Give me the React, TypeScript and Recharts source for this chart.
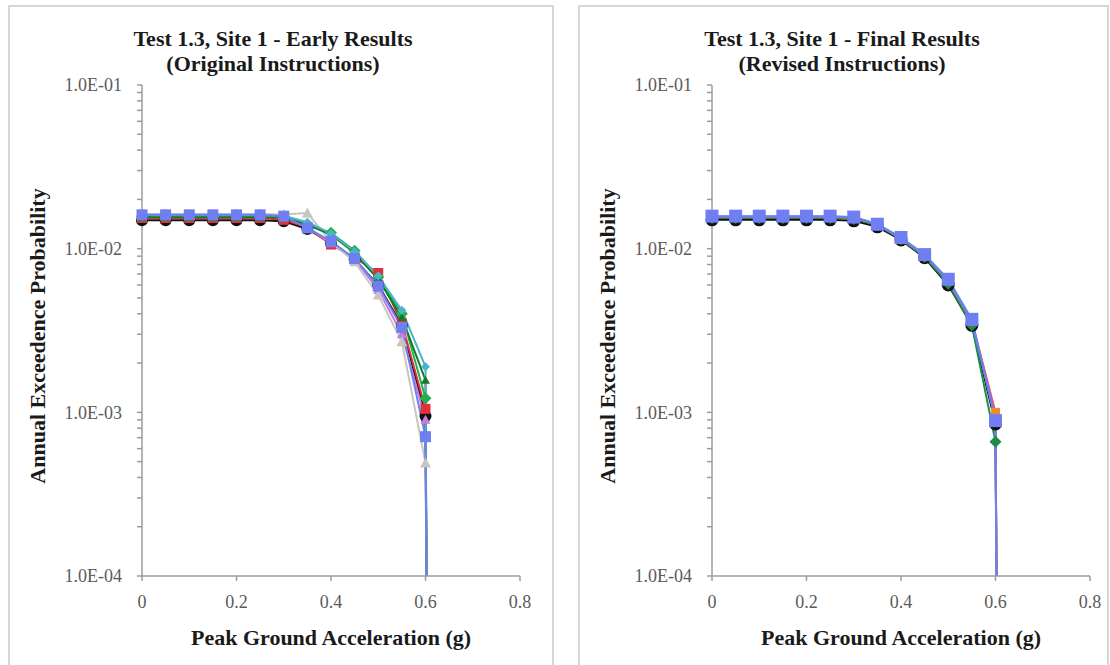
import { LineChart, Line, XAxis, YAxis } from "recharts";

// peak ground acceleration (g) - last point closes the curve down to the axis floor
const ACCEL = [0, 0.05, 0.1, 0.15, 0.2, 0.25, 0.3, 0.35, 0.4, 0.45, 0.5, 0.55, 0.6, 0.602];

// early results (original instructions)
const earlyBlack = [0.0149, 0.0149, 0.0149, 0.0149, 0.0149, 0.0149, 0.0147, 0.0132, 0.0108, 0.0086, 0.006, 0.0034, 0.00095, 0.0001];
const earlyRed = [0.0154, 0.0154, 0.0154, 0.0154, 0.0154, 0.0154, 0.015, 0.0135, 0.0106, 0.0088, 0.0071, 0.0035, 0.00105, 0.0001];
const earlyGreen = [0.0158, 0.0158, 0.0158, 0.0158, 0.0158, 0.0158, 0.0157, 0.014, 0.0125, 0.0097, 0.0067, 0.004, 0.00122, 0.0001];
const earlyDarkGreen = [0.0156, 0.0156, 0.0156, 0.0156, 0.0156, 0.0156, 0.0155, 0.014, 0.0122, 0.0094, 0.0065, 0.0038, 0.00157, 0.0001];
const earlyTeal = [0.016, 0.016, 0.016, 0.016, 0.016, 0.016, 0.0159, 0.0145, 0.0124, 0.0096, 0.0068, 0.0042, 0.0019, 0.0001];
const earlyGray = [0.0163, 0.0163, 0.0163, 0.0163, 0.0163, 0.0163, 0.0162, 0.0165, 0.011, 0.0083, 0.0052, 0.0027, 0.00049, 0.0001];
const earlyPink = [0.0158, 0.0158, 0.0158, 0.0158, 0.0158, 0.0158, 0.0156, 0.0135, 0.0108, 0.0086, 0.0056, 0.003, 0.0009, 0.0001];
const earlyBlue = [0.0161, 0.0161, 0.0161, 0.0161, 0.0161, 0.0161, 0.0158, 0.0134, 0.0111, 0.0087, 0.0059, 0.0033, 0.00071, 0.0001];

// final results (revised instructions)
const finalBlack = [0.015, 0.015, 0.015, 0.015, 0.015, 0.015, 0.0148, 0.0136, 0.0113, 0.0088, 0.006, 0.0034, 0.00085, 0.0001];
const finalPink = [0.0156, 0.0156, 0.0156, 0.0156, 0.0156, 0.0156, 0.0155, 0.0141, 0.0116, 0.0091, 0.0064, 0.0036, 0.00098, 0.0001];
const finalOrange = [0.0156, 0.0156, 0.0156, 0.0156, 0.0156, 0.0156, 0.0155, 0.0141, 0.0116, 0.0091, 0.0064, 0.0036, 0.001, 0.0001];
const finalGreen = [0.0154, 0.0154, 0.0154, 0.0154, 0.0154, 0.0154, 0.0152, 0.0139, 0.0114, 0.0089, 0.0061, 0.0034, 0.00066, 0.0001];
const finalTeal = [0.0157, 0.0157, 0.0157, 0.0157, 0.0157, 0.0157, 0.0155, 0.0141, 0.0116, 0.0091, 0.0064, 0.0036, 0.0009, 0.0001];
const finalBlue = [0.0158, 0.0158, 0.0158, 0.0158, 0.0158, 0.0158, 0.0156, 0.0141, 0.0117, 0.0092, 0.0065, 0.0037, 0.00089, 0.0001];

const X_TICKS = [0, 0.2, 0.4, 0.6, 0.8];
const Y_DECADES = [0.0001, 0.001, 0.01, 0.1];
const Y_TICKS = [
  0.0001, 0.0002, 0.0003, 0.0004, 0.0005, 0.0006, 0.0007, 0.0008, 0.0009,
  0.001, 0.002, 0.003, 0.004, 0.005, 0.006, 0.007, 0.008, 0.009,
  0.01, 0.02, 0.03, 0.04, 0.05, 0.06, 0.07, 0.08, 0.09, 0.1,
];

const FONT = '"Liberation Serif", "Times New Roman", serif';

type Series = { key: string; values: number[]; color: string; shape: string; size: number };

const earlySeries: Series[] = [
  { key: "black", values: earlyBlack, color: "#111111", shape: "circle", size: 12 },
  { key: "red", values: earlyRed, color: "#e0303a", shape: "square", size: 10 },
  { key: "pink", values: earlyPink, color: "#c77be0", shape: "triangle", size: 10 },
  { key: "gray", values: earlyGray, color: "#c8c4c0", shape: "triangle", size: 11 },
  { key: "green", values: earlyGreen, color: "#22b14c", shape: "diamond", size: 12 },
  { key: "darkgreen", values: earlyDarkGreen, color: "#127a2a", shape: "triangle", size: 9 },
  { key: "teal", values: earlyTeal, color: "#4bb4c8", shape: "diamond", size: 9 },
  { key: "blue", values: earlyBlue, color: "#6f7ff2", shape: "square", size: 11 },
];

const finalSeries: Series[] = [
  { key: "black", values: finalBlack, color: "#111111", shape: "circle", size: 13 },
  { key: "green", values: finalGreen, color: "#1f8a4a", shape: "diamond", size: 12 },
  { key: "orange", values: finalOrange, color: "#f08a2a", shape: "square", size: 9 },
  { key: "pink", values: finalPink, color: "#e04aa8", shape: "none", size: 0 },
  { key: "teal", values: finalTeal, color: "#4a9bd0", shape: "none", size: 0 },
  { key: "blue", values: finalBlue, color: "#6f7ff2", shape: "square", size: 13 },
];

const buildRows = (series: Series[]) =>
  ACCEL.map((x, i) => {
    const row: Record<string, number> = { x };
    series.forEach((s) => (row[s.key] = s.values[i]));
    return row;
  });

const fmtExp = (v: number) => {
  const [m, e] = v.toExponential(1).split("e");
  return `${m}E${e[0]}${e.slice(1).padStart(2, "0")}`;
};

function makeDot(shape: string, color: string, size: number) {
  return (props: any) => {
    const { cx, cy, index } = props;
    const k = `dot-${index}`;
    if (shape === "none" || cx == null || cy == null || index === ACCEL.length - 1) return <g key={k} />;
    const h = size / 2;
    if (shape === "circle") return <circle key={k} cx={cx} cy={cy} r={h} fill={color} />;
    if (shape === "square") return <rect key={k} x={cx - h} y={cy - h} width={size} height={size} fill={color} />;
    if (shape === "diamond")
      return <polygon key={k} points={`${cx},${cy - h} ${cx + h},${cy} ${cx},${cy + h} ${cx - h},${cy}`} fill={color} />;
    return <polygon key={k} points={`${cx},${cy - h} ${cx + h},${cy + h * 0.8} ${cx - h},${cy + h * 0.8}`} fill={color} />;
  };
}

const YTick = (props: any) => {
  const { x, y, payload } = props;
  if (!Y_DECADES.includes(payload.value)) return <g />;
  return (
    <text x={x} y={y} dy="0.35em" textAnchor="end" fontFamily={FONT} fontSize={18} fill="#5a5a5a">
      {fmtExp(payload.value)}
    </text>
  );
};

const labelStyle = {
  position: "absolute" as const,
  whiteSpace: "nowrap" as const,
  fontFamily: FONT,
  fontWeight: "bold",
  fontSize: 22,
  color: "#1a1a1a",
};

function Panel(props: { left: number; width: number; titleX: number; title: string; subtitle: string; series: Series[] }) {
  const { left, width, titleX, title, subtitle, series } = props;
  const data = buildRows(series);
  return (
    <>
      <div style={{ position: "absolute", left: left + 8, top: 5, width: width - 13, height: 700, border: "2px solid #d6d6d6" }} />
      <div
        style={{
          ...labelStyle,
          left: left + titleX,
          top: 26,
          transform: "translateX(-50%)",
          textAlign: "center",
          fontSize: 22,
          lineHeight: "25px",
        }}
      >
        {title}
        <br />
        {subtitle}
      </div>
      <div style={{ ...labelStyle, left: left + 38, top: 336, transform: "translate(-50%, -50%) rotate(-90deg)" }}>
        Annual Exceedence Probability
      </div>
      <div style={{ ...labelStyle, left: left + 331, top: 638, transform: "translate(-50%, -50%)" }}>
        Peak Ground Acceleration (g)
      </div>
      <div style={{ position: "absolute", left, top: 0 }}>
        <LineChart width={width} height={665} data={data} margin={{ top: 85, right: width - 520, bottom: 59, left: 0 }}>
          <XAxis
            dataKey="x"
            type="number"
            domain={[0, 0.8]}
            ticks={X_TICKS}
            tickFormatter={(v) => String(v)}
            height={30}
            tickSize={5}
            tickMargin={14}
            stroke="#9c9c9c"
            strokeWidth={1.5}
            tick={{ fontFamily: FONT, fontSize: 18, fill: "#5a5a5a" }}
            interval={0}
          />
          <YAxis
            type="number"
            scale="log"
            domain={[0.0001, 0.1]}
            ticks={Y_TICKS}
            width={142}
            tickSize={5}
            tickMargin={15}
            stroke="#9c9c9c"
            strokeWidth={1.5}
            tick={<YTick />}
            interval={0}
          />
          {series.map((s) => (
            <Line
              key={s.key}
              dataKey={s.key}
              stroke={s.color}
              strokeWidth={2}
              dot={makeDot(s.shape, s.color, s.size)}
              activeDot={false}
              isAnimationActive={false}
            />
          ))}
        </LineChart>
      </div>
    </>
  );
}

export default function App() {
  return (
    <div style={{ position: "absolute", left: 0, top: 0, width: 1110, height: 665, overflow: "hidden", background: "#fff" }}>
      <Panel left={0} width={555} titleX={273} title="Test 1.3, Site 1 - Early Results" subtitle="(Original Instructions)" series={earlySeries} />
      <Panel left={570} width={540} titleX={272} title="Test 1.3, Site 1 - Final Results" subtitle="(Revised Instructions)" series={finalSeries} />
    </div>
  );
}
